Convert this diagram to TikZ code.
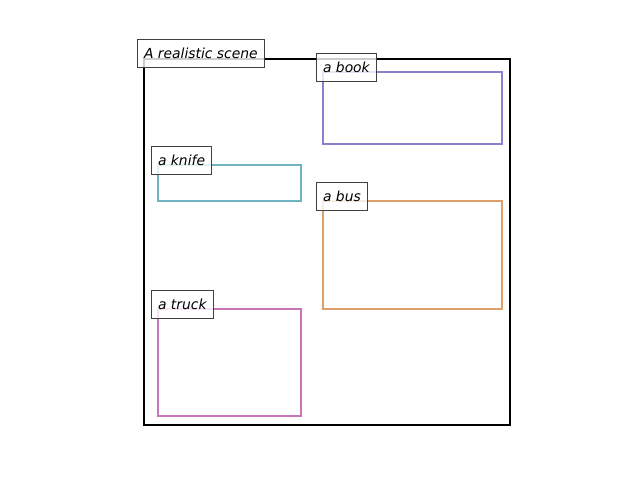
\documentclass[tikz,border=0pt]{standalone}
\usepackage{fontspec}
\setmainfont{DejaVu Sans}
\usetikzlibrary{positioning}

\definecolor{bookc}{RGB}{142,126,206}
\definecolor{knifec}{RGB}{112,180,194}
\definecolor{busc}{RGB}{222,160,106}
\definecolor{truckc}{RGB}{200,116,182}
\definecolor{tagc}{RGB}{64,64,64}

\tikzset{
        tag/.style={draw=tagc,line width=0.6pt,fill=white,fill opacity=0.8,text opacity=1,
                inner xsep=3.7pt,minimum height=0.56cm,anchor=south west,
                font=\fontsize{7.9}{9}\selectfont\itshape},
        region/.style={line width=1.2pt}
}

\begin{document}
\begin{tikzpicture}[x=0.02cm,y=-0.02cm]
        \useasboundingbox (0,0) rectangle (640,480);

        \draw[region,black] (144,59) rectangle (510,425);
        \draw[region,bookc] (323,72) rectangle (502,144);
        \draw[region,knifec] (158,165) rectangle (301,201);
        \draw[region,busc] (323,201) rectangle (502,309);
        \draw[region,truckc] (158,309) rectangle (301,416);

        \node[tag] (scene) at (137,68) {A realistic scene};
        \node[tag] (book) at (316,82) {a book};
        \node[tag] (knife) at (151,175) {a knife};
        \node[tag] (bus) at (316,211) {a bus};
        \node[tag] (truck) at (151,319) {a truck};

\end{tikzpicture}
\end{document}
